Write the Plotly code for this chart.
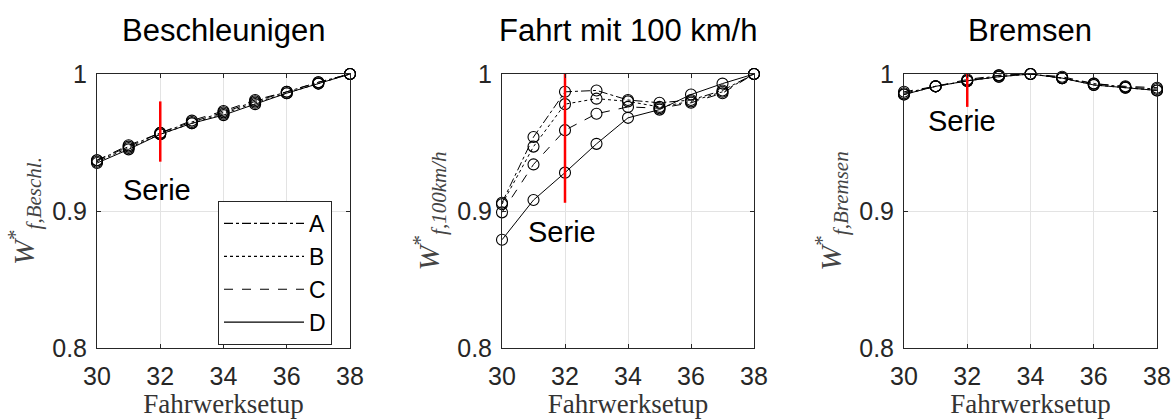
import plotly.graph_objects as go
from plotly.subplots import make_subplots

# Chassis setups on the x axis
setups = [30, 31, 32, 33, 34, 35, 36, 37, 38]
series_names = ["A", "B", "C", "D"]
x_ticks = [30, 32, 34, 36, 38]
y_ticks = [0.8, 0.9, 1.0]
y_tick_labels = ["0.8", "0.9", "1"]

# Normalised values per manoeuvre and variant
beschl_A = [0.937, 0.947, 0.957, 0.965, 0.972, 0.980, 0.987, 0.994, 1.0]
beschl_B = [0.936, 0.946, 0.956, 0.964, 0.971, 0.979, 0.986, 0.993, 1.0]
beschl_C = [0.937, 0.948, 0.957, 0.966, 0.973, 0.981, 0.987, 0.994, 1.0]
beschl_D = [0.935, 0.945, 0.956, 0.964, 0.970, 0.978, 0.986, 0.993, 1.0]

fahrt_A = [0.906, 0.954, 0.987, 0.988, 0.981, 0.979, 0.981, 0.988, 1.0]
fahrt_B = [0.905, 0.947, 0.978, 0.982, 0.980, 0.976, 0.980, 0.987, 1.0]
fahrt_C = [0.899, 0.934, 0.959, 0.971, 0.976, 0.975, 0.979, 0.986, 1.0]
fahrt_D = [0.879, 0.908, 0.928, 0.949, 0.968, 0.974, 0.985, 0.993, 1.0]

brems_A = [0.986, 0.991, 0.995, 0.999, 1.0, 0.997, 0.993, 0.9905, 0.989]
brems_B = [0.985, 0.991, 0.995, 0.998, 1.0, 0.997, 0.992, 0.990, 0.988]
brems_C = [0.987, 0.991, 0.996, 0.999, 1.0, 0.998, 0.993, 0.991, 0.990]
brems_D = [0.985, 0.991, 0.995, 0.998, 1.0, 0.997, 0.992, 0.990, 0.988]

# Series (production) setup marker: x position and vertical extent per panel
serie_x = 32
serie_ranges = [(0.936, 0.980), (0.906, 1.0), (0.976, 1.006)]
serie_label_pos = [(30.75, 0.915), (30.75, 0.885), (30.7, 0.966)]

titles = ["Beschleunigen", "Fahrt mit 100 km/h", "Bremsen"]
y_titles = [
    "<i>W</i><sup>*</sup><sub><i>f,Beschl.</i></sub>",
    "<i>W</i><sup>*</sup><sub><i>f,100km/h</i></sub>",
    "<i>W</i><sup>*</sup><sub><i>f,Bremsen</i></sub>",
]

panels = [
    [beschl_A, beschl_B, beschl_C, beschl_D],
    [fahrt_A, fahrt_B, fahrt_C, fahrt_D],
    [brems_A, brems_B, brems_C, brems_D],
]
dashes = ["dashdot", "dot", "dash", "solid"]

W, H = 1175, 419
x_domains = [(97 / W, 350 / W), (502 / W, 754 / W), (904 / W, 1157 / W)]
y_domain = ((H - 348) / H, (H - 74) / H)

fig = make_subplots(rows=1, cols=3)

axis_col = "#262626"
sans = "Liberation Sans, Arial, sans-serif"
serif = "Liberation Serif, Times New Roman, serif"

for p, series in enumerate(panels):
    col = p + 1
    for s, vals in enumerate(series):
        fig.add_trace(
            go.Scatter(
                x=setups, y=vals, mode="lines+markers",
                line=dict(color="black", width=1, dash=dashes[s]),
                marker=dict(symbol="circle-open", size=11,
                            color="black", line=dict(width=1.1, color="black")),
                showlegend=False, cliponaxis=False, name=series_names[s],
            ),
            row=1, col=col,
        )
    lo, hi = serie_ranges[p]
    fig.add_trace(
        go.Scatter(x=[serie_x, serie_x], y=[lo, hi], mode="lines",
                   line=dict(color="#ff0000", width=2.5),
                   showlegend=False, cliponaxis=False, hoverinfo="skip"),
        row=1, col=col,
    )
    lx, ly = serie_label_pos[p]
    fig.add_annotation(x=lx, y=ly, xref=f"x{col if col > 1 else ''}",
                       yref=f"y{col if col > 1 else ''}",
                       text="Serie", showarrow=False, xanchor="left",
                       yanchor="middle",
                       font=dict(family=sans, size=29, color="black"))
    # panel title
    fig.add_annotation(x=(x_domains[p][0] + x_domains[p][1]) / 2,
                       y=(H - 30) / H, xref="paper", yref="paper",
                       text=titles[p], showarrow=False,
                       xanchor="center", yanchor="middle",
                       font=dict(family=sans, size=31, color="black"))

    axis_common = dict(showline=True, linecolor=axis_col, linewidth=1,
                       mirror="ticks", ticks="inside", ticklen=4,
                       tickcolor=axis_col, showgrid=True, gridcolor="#e3e3e3",
                       gridwidth=1, zeroline=False, automargin=False,
                       tickfont=dict(family=sans, size=25, color=axis_col))
    fig.update_xaxes(range=[30, 38], tickvals=x_ticks,
                     ticktext=[str(v) for v in x_ticks],
                     domain=list(x_domains[p]), ticklabelstandoff=6,
                     title=dict(text="Fahrwerksetup",
                                font=dict(family=serif, size=27, color="#333333"),
                                standoff=8),
                     row=1, col=col, **axis_common)
    fig.update_yaxes(range=[0.8, 1.0], tickvals=y_ticks, ticktext=y_tick_labels,
                     domain=list(y_domain), ticklabelstandoff=4,
                     title=dict(text=y_titles[p],
                                font=dict(family=serif, size=30, color="#444444"),
                                standoff=8),
                     row=1, col=col, **axis_common)

# Legend entries (lines only)
for s, name in enumerate(series_names):
    fig.add_trace(
        go.Scatter(x=[None], y=[None], mode="lines", name=name,
                   line=dict(color="black", width=1.2, dash=dashes[s]),
                   showlegend=True),
        row=1, col=1,
    )

fig.update_layout(
    width=W, height=H,
    margin=dict(l=0, r=0, t=0, b=0),
    paper_bgcolor="white", plot_bgcolor="white",
    legend=dict(x=218 / W, y=(H - 201) / H, xanchor="left", yanchor="top",
                bordercolor="#262626", borderwidth=1, bgcolor="white",
                font=dict(family=sans, size=23, color="black"),
                itemwidth=80, tracegroupgap=0,
                traceorder="normal"),
)

fig.write_html("out.html")
